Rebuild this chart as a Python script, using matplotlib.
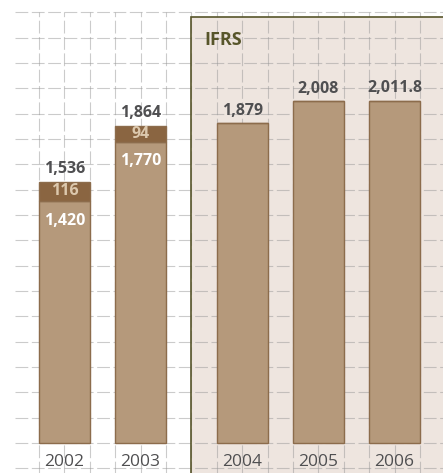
import numpy as np
import matplotlib
matplotlib.use("Agg")
import matplotlib.pyplot as plt

plt.rcParams['font.family'] = ['Open Sans', 'DejaVu Sans']

# Daten
years = ['2002', '2003', '2004', '2005', '2006']
base = [1420, 1770, 1879, 2008, 2011.8]
extra = [116, 94, 0, 0, 0]
totals = ['1,536', '1,864', '1,879', '2,008', '2,011.8']
base_labels = ['1,420', '1,770', '', '', '']
extra_labels = ['116', '94', '', '', '']

# Layout (in Rasterzellen)
xpos = np.array([1, 4, 8, 11, 14])
ifrs_start = 6

c_bar = '#b5997b'
c_dark = '#8a6541'
c_edge = '#8c6c4c'
c_text = '#4f4f51'
c_ifrs = '#57552a'

fig = plt.figure(figsize=(4.43, 4.73), dpi=100)

# Hintergrund mit Raster (Zelleinheiten)
bg = fig.add_axes([0, 0, 1, 1])
bg.set_xlim(-39 / 25.4, 404 / 25.4)
bg.set_ylim(-30 / 25.33, 443 / 25.33)
bg.axis('off')

top_y = 16.82
bg.add_patch(plt.Rectangle((ifrs_start, -3), 20, top_y + 3,
                           facecolor='#eee5df', edgecolor='none', zorder=0))
dash = (0, (11.5, 3.2))
bg.hlines(np.arange(-1, 18), -0.945, 17, colors='#999999', alpha=0.5,
          linewidth=0.8, linestyles=[dash], zorder=1)
bg.vlines(np.arange(0, 17), -2, 17, colors='#999999', alpha=0.5,
          linewidth=0.8, linestyles=[dash], zorder=1)
bg.plot([ifrs_start, ifrs_start, 17], [-2, top_y, top_y], color=c_ifrs,
        linewidth=1.2, zorder=2, solid_joinstyle='miter')
bg.text(6.5, 15.91, 'IFRS', ha='left', va='center', fontsize=13,
        fontweight='bold', color=c_ifrs, zorder=3)

# Balken
ax = fig.add_axes([0, 0, 1, 1])
ax.patch.set_alpha(0)
ax.set_xlim(-39 / 25.4, 404 / 25.4)
k = 0.1702
ax.set_ylim(-30 / k, 443 / k)
ax.axis('off')

ax.bar(xpos, base, width=2, color=c_bar, edgecolor=c_edge, linewidth=1)
ax.bar(xpos, extra, width=2, bottom=base, color=c_dark, edgecolor=c_edge,
       linewidth=1)

for i in range(len(years)):
    top = base[i] + extra[i]
    ax.annotate(totals[i], (xpos[i], top), xytext=(0, 9), textcoords='offset points',
                ha='center', va='center', fontsize=11.5, fontweight='bold', color=c_text)
    if extra[i] > 0:
        ax.text(xpos[i], base[i] + extra[i] / 2, extra_labels[i], ha='center',
                va='center', fontsize=11.5, fontweight='bold', color='#dcc8ad')
        ax.annotate(base_labels[i], (xpos[i], base[i]), xytext=(0, -14),
                    textcoords='offset points', ha='center', va='center',
                    fontsize=11.5, fontweight='bold', color='white')
    ax.annotate(years[i], (xpos[i], 0), xytext=(0, -13.7), textcoords='offset points',
                ha='center', va='center', fontsize=12.5, color=c_text)

plt.savefig('out.png', dpi=100)
